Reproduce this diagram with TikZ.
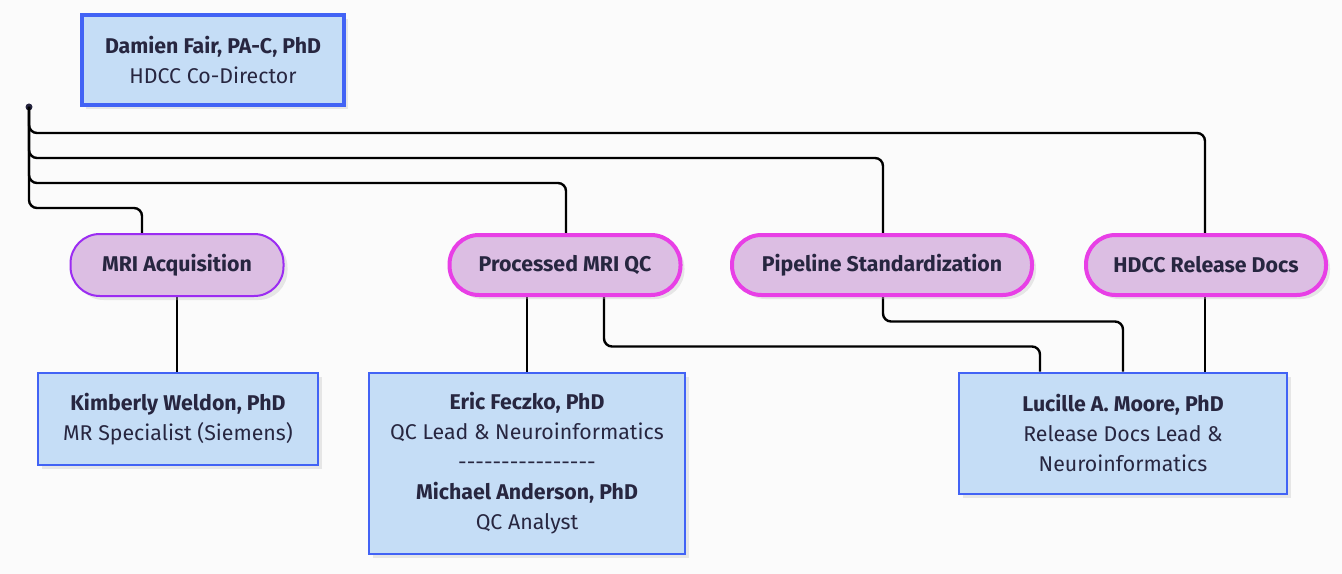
\documentclass[tikz,border=0pt]{standalone}
\usepackage{fontspec}
\setmainfont{Fira Sans}
\usepackage{tikz}
\usetikzlibrary{calc}
\usetikzlibrary{shadows}
\usetikzlibrary{backgrounds}
\definecolor{boxfill}{HTML}{C5DDF6}
\definecolor{boxline}{HTML}{4263F5}
\definecolor{pillfill}{HTML}{DCBEE3}
\definecolor{pillline}{HTML}{E83FE6}
\definecolor{acqline}{HTML}{9B2CF2}
\definecolor{inktext}{HTML}{272640}
\definecolor{paper}{HTML}{FBFBFB}

\tikzset{
  person/.style={draw=boxline, fill=boxfill, line width=1.5pt, inner sep=0pt, align=center,
    text=inktext, font=\fontsize{16}{22.5}\selectfont,
    drop shadow={shadow xshift=3pt, shadow yshift=-3pt, fill=black!25, opacity=0.35}},
  task/.style={draw=pillline, fill=pillfill, line width=3pt, inner sep=0pt, rounded corners=22pt,
    text=inktext, font=\fontsize{16}{18}\selectfont\bfseries, minimum height=45pt,
    drop shadow={shadow xshift=3pt, shadow yshift=-3pt, fill=black!25, opacity=0.35}},
  wire/.style={line width=1.8pt, black, rounded corners=6pt}
}

\begin{document}
\begin{tikzpicture}[x=0.75pt,y=-0.75pt]
\useasboundingbox (0,0) rectangle (1342,574);
%% people
\node[person, line width=3pt, minimum width=196.5pt, minimum height=67.5pt] (fair) at (213,60)
  {\textbf{Damien Fair, PA-C, PhD}\\HDCC Co-Director};
\node[person, minimum width=210pt, minimum height=69pt] (weldon) at (178,419)
  {\textbf{Kimberly Weldon, PhD}\\MR Specialist (Siemens)};
\node[person, minimum width=237pt, minimum height=135.75pt] (feczko) at (527,463)
  {\textbf{Eric Feczko, PhD}\\QC Lead \& Neuroinformatics\\-{}-{}-{}-{}-{}-{}-{}-{}-{}-{}-{}-{}-{}-{}-{}-\\\textbf{Michael Anderson, PhD}\\QC Analyst};
\node[person, minimum width=246pt, minimum height=90.75pt] (moore) at (1123,433)
  {\textbf{Lucille A. Moore, PhD}\\Release Docs Lead \&\\Neuroinformatics};
%% tasks
\node[task, draw=acqline, line width=1.5pt, minimum width=159.75pt, minimum height=46.5pt] (acq) at (177,265) {MRI Acquisition};
\node[task, minimum width=173.25pt] (qc) at (565,265) {Processed MRI QC};
\node[task, minimum width=225pt] (pipe) at (882,265) {Pipeline Standardization};
\node[task, minimum width=180pt] (rel) at (1206,265) {HDCC Release Docs};

\begin{scope}[on background layer]
\fill[paper] (0,0) rectangle (1342,574);
\coordinate (hub) at (29,107);
\fill[inktext] (hub) circle (3.5);
\foreach \n/\lv/\dx in {rel/133/-1, pipe/158/1, qc/183/1, acq/208/-35} {
  \coordinate (end) at ($(\n.north)+(\dx,0)$);
  \draw[wire] (hub) |- (end |- 0,\lv) -- (end);
}
\draw[wire] (acq.south) -- (acq.south |- weldon.north);
\draw[wire] ($(qc.south)+(-38,0)$) -- (feczko.north);
\draw[wire] ($(qc.south)+(39,0)$) |- ($(moore.north)+(-83,-25)$) -- ($(moore.north)+(-83,0)$);
\draw[wire] ($(pipe.south)+(1,0)$) |- ($(moore.north)+(0,-50)$) -- (moore.north);
\draw[wire] ($(rel.south)+(-1,0)$) -- ($(moore.north)+(82,0)$);
\end{scope}
\end{tikzpicture}
\end{document}
